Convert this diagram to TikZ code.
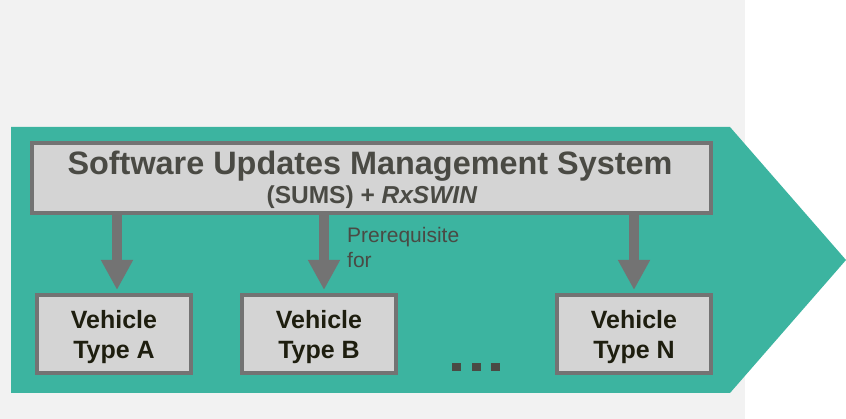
\documentclass[tikz,border=0pt]{standalone}
\usepackage{fontspec}
\setmainfont{Liberation Sans}
\usepackage{xcolor}
\usetikzlibrary{arrows.meta,positioning}

\definecolor{teal1}{RGB}{60,180,160}
\definecolor{boxgray}{RGB}{212,212,212}
\definecolor{edgegray}{RGB}{115,115,115}
\definecolor{bggray}{RGB}{242,242,242}
\definecolor{titlegray}{RGB}{74,74,68}
\definecolor{darktext}{RGB}{30,30,15}

\begin{document}
\begin{tikzpicture}[x=1pt,y=-1pt,
	graybox/.style={draw=edgegray,fill=boxgray,line width=4pt,inner sep=0pt},
	vehicle/.style={graybox,minimum width=154pt,minimum height=78pt,align=center,text depth=0pt,
		text=darktext,font=\fontsize{25}{30}\selectfont\bfseries},
	downarrow/.style={draw=edgegray,line width=10pt,-{Triangle[width=30pt,length=30pt]},shorten >=3pt}]
	\useasboundingbox (0,0) rectangle (846,419);
	\fill[white] (0,0) rectangle (846,419);
	\fill[bggray] (0,0) rectangle (745,419);

	% big arrow
	\fill[teal1] (11,127) -- (730,127) -- (846,260) -- (730,393) -- (11,393) -- cycle;

	\node[graybox,minimum width=679pt,minimum height=70pt] (sums) at (371.5,178) {};
	\node[anchor=base,text=titlegray,font=\fontsize{32.4}{36}\selectfont\bfseries,inner sep=0pt] (sumstitle) at (370,175) {Software Updates Management System};
	\node[anchor=base,text=titlegray,font=\fontsize{24.5}{28}\selectfont\bfseries,inner sep=0pt] (sumssub) at (372,204) {(SUMS) + \textit{RxSWIN}};

	\node[vehicle] (typeA) at (114,334) {Vehicle\\Type A};
	\node[vehicle] (typeB) at (319,334) {Vehicle\\Type B};
	\node[vehicle] (typeN) at (634,334) {Vehicle\\Type N};

	\draw[downarrow] ([xshift=3pt]sums.south -| typeA.north) -- ([xshift=3pt]typeA.north);
	\draw[downarrow] ([xshift=5pt]sums.south -| typeB.north) -- ([xshift=5pt]typeB.north);
	\draw[downarrow] (sums.south -| typeN.north) -- (typeN.north);

	\node[anchor=north west,align=left,inner sep=0pt,text=titlegray,font=\fontsize{21}{25}\selectfont] (prereq) at (347,227) {Prerequisite\\for};

	% dots
	\foreach \x in {452,472,491}
		\fill[titlegray] (\x,363) rectangle ++(8.5,8);
\end{tikzpicture}
\end{document}
